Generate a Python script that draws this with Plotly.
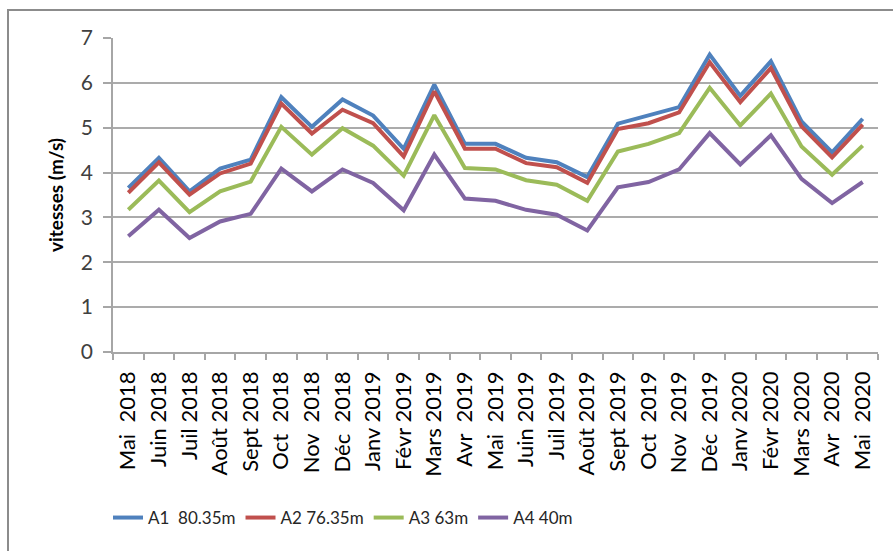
import plotly.graph_objects as go

NB = "\u00a0"

# Mois de mesure
mois = [
    "Mai  2018", "Juin 2018", "Juil 2018", "Août 2018", "Sept 2018", "Oct  2018",
    "Nov  2018", "Déc  2018", "Janv 2019", "Févr 2019", "Mars 2019", "Avr  2019",
    "Mai  2019", "Juin 2019", "Juil 2019", "Août 2019", "Sept 2019", "Oct  2019",
    "Nov  2019", "Déc  2019", "Janv 2020", "Févr 2020", "Mars 2020", "Avr  2020",
    "Mai  2020",
]
# espaces insécables pour garder les doubles espaces à l'affichage
mois_aff = [m.replace(" ", NB) for m in mois]

# Vitesses moyennes mensuelles (m/s) par hauteur de mesure
a1 = [3.66, 4.33, 3.58, 4.09, 4.29, 5.68, 5.02, 5.63, 5.27, 4.53, 5.96, 4.64, 4.64,
      4.33, 4.23, 3.90, 5.09, 5.27, 5.46, 6.63, 5.71, 6.48, 5.14, 4.45, 5.20]
a2 = [3.55, 4.23, 3.51, 3.98, 4.20, 5.54, 4.87, 5.40, 5.10, 4.36, 5.81, 4.53, 4.53,
      4.21, 4.12, 3.77, 4.97, 5.10, 5.34, 6.46, 5.57, 6.33, 5.03, 4.34, 5.07]
a3 = [3.17, 3.82, 3.12, 3.58, 3.80, 5.02, 4.40, 4.99, 4.60, 3.93, 5.28, 4.10, 4.07,
      3.83, 3.73, 3.37, 4.47, 4.64, 4.88, 5.89, 5.05, 5.76, 4.58, 3.95, 4.60]
a4 = [2.58, 3.17, 2.54, 2.91, 3.08, 4.09, 3.58, 4.07, 3.77, 3.16, 4.40, 3.42, 3.37,
      3.17, 3.06, 2.71, 3.67, 3.79, 4.07, 4.88, 4.18, 4.83, 3.86, 3.32, 3.79]

series = [
    ("A1" + NB + " 80.35m", a1, "#4F81BD"),
    ("A2 76.35m", a2, "#C0504D"),
    ("A3 63m", a3, "#9BBB59"),
    ("A4 40m", a4, "#8064A2"),
]

FONT = "Lato, Open Sans, sans-serif"

fig = go.Figure()
for name, vals, color in series:
    fig.add_trace(go.Scatter(
        x=mois_aff, y=vals, name=name, mode="lines",
        line=dict(color=color, width=4),
    ))

W, H = 893, 551
ML, MR, MT, MB = 113, 15, 38, 199
pw, ph = W - ML - MR, H - MT - MB

# cadre extérieur du graphique (ouvert à droite et en bas)
fx0 = (8 - ML) / pw
fx1 = (W + 5 - ML) / pw
fy1 = (H - 10 - MB) / ph
fy0 = (-10 - MB) / ph
fig.add_shape(type="rect", xref="paper", yref="paper",
              x0=fx0, x1=fx1, y0=fy0, y1=fy1,
              line=dict(color="#8C8C8C", width=2), layer="below")

fig.update_layout(
    width=W, height=H,
    margin=dict(l=ML, r=MR, t=MT, b=MB),
    paper_bgcolor="white", plot_bgcolor="white",
    font=dict(family=FONT, color="#000000"),
    showlegend=True,
    legend=dict(
        orientation="h", x=(108 - ML) / pw, xanchor="left",
        y=(H - 518 - MB) / ph, yanchor="middle",
        font=dict(size=17, color="#262626", family=FONT),
        itemwidth=30, tracegroupgap=0,
        bgcolor="rgba(0,0,0,0)",
    ),
    xaxis=dict(
        type="category", tickangle=-90,
        tickfont=dict(size=22, color="#000000", family=FONT),
        showgrid=False, showline=True, linecolor="#A6A6A6", linewidth=1.5,
        ticks="outside", ticklen=6, tickcolor="#A6A6A6", tickwidth=1.5,
        tickson="boundaries", range=[-0.5, len(mois) - 0.5],
        ticklabelstandoff=9,
    ),
    yaxis=dict(
        range=[0, 7], dtick=1, tick0=0,
        tickfont=dict(size=21, color="#404040", family=FONT),
        showgrid=True, gridcolor="#ABABAB", gridwidth=1.5,
        showline=True, linecolor="#A6A6A6", linewidth=1.5,
        ticks="outside", ticklen=8, tickcolor="#A6A6A6", tickwidth=1.5,
        zeroline=False, ticklabelstandoff=6,
        title=dict(text="<b>vitesses (m/s)</b>", standoff=12,
                   font=dict(size=19, color="#000000", family=FONT)),
    ),
)

fig.write_html("out.html")
